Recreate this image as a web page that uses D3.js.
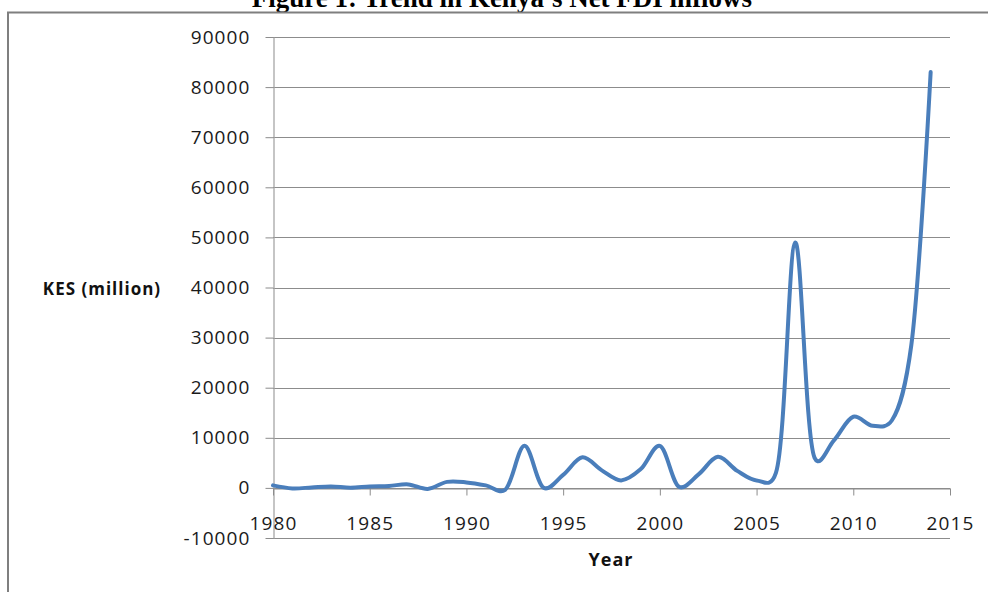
<!DOCTYPE html>
<html>
<head>
<meta charset="utf-8">
<script src="https://cdn.jsdelivr.net/npm/d3@7"></script>
<style>
  html, body { margin: 0; padding: 0; background: #fff; }
  svg { display: block; }
</style>
</head>
<body>
<svg id="chart" width="988" height="592"></svg>
<script>
// Kenya net FDI inflows, KES million, 1980-2014
const years = [1980, 1981, 1982, 1983, 1984, 1985, 1986, 1987, 1988, 1989,
               1990, 1991, 1992, 1993, 1994, 1995, 1996, 1997, 1998, 1999,
               2000, 2001, 2002, 2003, 2004, 2005, 2006, 2007, 2008, 2009,
               2010, 2011, 2012, 2013, 2014];
const fdi = [500, -100, 100, 300, 50, 300, 400, 700, -200, 1200,
             1100, 500, -400, 8400, 0, 2600, 6100, 3500, 1500, 3700,
             8400, 200, 2700, 6200, 3400, 1500, 3000, 49000, 6000, 9500,
             14200, 12400, 13500, 28500, 83000];
const yTicks = [-10000, 0, 10000, 20000, 30000, 40000, 50000, 60000, 70000, 80000, 90000];
const xTicks = [1980, 1985, 1990, 1995, 2000, 2005, 2010, 2015];

const titleText = "Figure 1: Trend in Kenya\u2019s Net FDI inflows";
const yTitle = "KES (million)";
const xTitle = "Year";

const svg = d3.select("#chart");
const plotLeft = 273, plotRight = 950, plotTop = 37, plotBottom = 538;

const x = d3.scaleLinear().domain([1980, 2015]).range([plotLeft, plotRight]);
const y = d3.scaleLinear().domain([-10000, 90000]).range([plotBottom, plotTop]);

// document caption above the chart frame
svg.append("text")
  .attr("x", 502).attr("y", 7)
  .attr("text-anchor", "middle")
  .attr("font-family", "'Liberation Serif', 'Times New Roman', serif")
  .attr("font-weight", "bold")
  .attr("font-size", 27)
  .attr("fill", "#000")
  .text(titleText);

// chart frame
svg.append("rect")
  .attr("x", 8).attr("y", 12.5)
  .attr("width", 1000).attr("height", 600)
  .attr("fill", "none")
  .attr("stroke", "#7f7f7f")
  .attr("stroke-width", 2);

// horizontal gridlines
svg.append("g")
  .selectAll("line")
  .data(yTicks)
  .join("line")
  .attr("x1", plotLeft).attr("x2", plotRight)
  .attr("y1", d => Math.round(y(d)) + 0.5)
  .attr("y2", d => Math.round(y(d)) + 0.5)
  .attr("stroke", "#8c8c8c")
  .attr("stroke-width", 1);

const tickFont = "'Open Sans', sans-serif";
const plain = d => String(d);

// value axis
const yAxis = svg.append("g")
  .attr("transform", `translate(${plotLeft + 0.5},0)`)
  .call(d3.axisLeft(y).tickValues(yTicks).tickSizeInner(8).tickSizeOuter(0).tickPadding(15)
        .tickFormat(plain));
yAxis.select(".domain").attr("stroke", "#a6a6a6").attr("stroke-width", 1.3);
yAxis.selectAll(".tick line").attr("stroke", "#8c8c8c");
yAxis.selectAll(".tick text")
  .attr("font-family", tickFont).attr("font-size", 19)
  .attr("letter-spacing", 1.1)
  .attr("fill", "#1a1a1a");

// year axis at the zero line
const xAxis = svg.append("g")
  .attr("transform", `translate(0,${Math.round(y(0)) + 0.5})`)
  .call(d3.axisBottom(x).tickValues(xTicks).tickSizeInner(7).tickSizeOuter(0).tickPadding(21)
        .tickFormat(plain));
xAxis.select(".domain").attr("stroke", "#8c8c8c");
xAxis.selectAll(".tick line").attr("stroke", "#8c8c8c");
xAxis.selectAll(".tick text")
  .attr("font-family", tickFont).attr("font-size", 19)
  .attr("letter-spacing", 1.1)
  .attr("fill", "#1a1a1a");

// axis titles
svg.append("text")
  .attr("x", 102).attr("y", 295)
  .attr("text-anchor", "middle")
  .attr("font-family", tickFont).attr("font-weight", "bold").attr("font-size", 17)
  .attr("letter-spacing", 1)
  .attr("fill", "#111")
  .text(yTitle);

svg.append("text")
  .attr("x", 611).attr("y", 566)
  .attr("text-anchor", "middle")
  .attr("font-family", tickFont).attr("font-weight", "bold").attr("font-size", 18)
  .attr("letter-spacing", 1)
  .attr("fill", "#111")
  .text(xTitle);

// smoothed series line
const line = d3.line()
  .x((d, i) => x(years[i]))
  .y(d => y(d))
  .curve(d3.curveCatmullRom.alpha(0.25));

svg.append("path")
  .datum(fdi)
  .attr("d", line)
  .attr("fill", "none")
  .attr("stroke", "#4a7ebb")
  .attr("stroke-width", 4)
  .attr("stroke-linejoin", "round")
  .attr("stroke-linecap", "round");
</script>
</body>
</html>
